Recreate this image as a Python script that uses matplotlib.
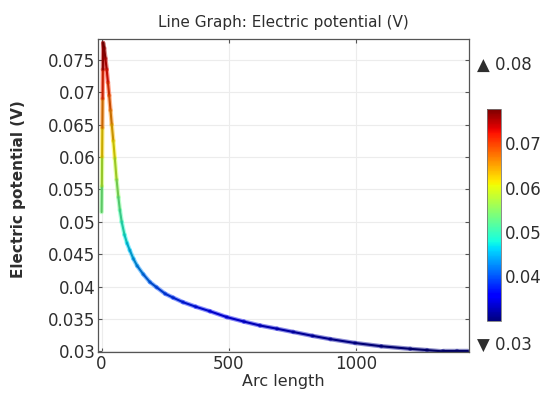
import numpy as np
import matplotlib
matplotlib.use("Agg")
import matplotlib.pyplot as plt
from matplotlib.collections import LineCollection
from matplotlib.colors import Normalize, ListedColormap

# Electric potential sampled along the arc
arc_length = [0, 1, 2, 3, 4, 5, 6, 10, 15, 20, 25, 30, 35, 40, 46, 52, 59, 66,
              72, 79, 90, 100, 111, 125, 140, 164, 190, 216, 250, 281, 320, 370,
              426, 492, 560, 623, 690, 754, 830, 900, 997, 1100, 1214, 1280,
              1345, 1400, 1442]
potential = [0.0515, 0.0555, 0.0600, 0.0645, 0.0690, 0.0735, 0.0776, 0.0768,
             0.0752, 0.0735, 0.0715, 0.0695, 0.0672, 0.0650, 0.0625, 0.0598,
             0.0565, 0.0538, 0.0518, 0.0500, 0.0480, 0.0467, 0.0456, 0.0443,
             0.0432, 0.0419, 0.0407, 0.0399, 0.0389, 0.0383, 0.0376, 0.0369,
             0.0362, 0.0353, 0.0346, 0.0340, 0.0335, 0.0330, 0.0324, 0.0319,
             0.0313, 0.0308, 0.0304, 0.0302, 0.0300, 0.0300, 0.0300]

x_ticks = [0, 500, 1000]
y_ticks = [0.03, 0.035, 0.04, 0.045, 0.05, 0.055, 0.06, 0.065, 0.07, 0.075]
y_tick_labels = ["0.03", "0.035", "0.04", "0.045", "0.05", "0.055", "0.06",
                 "0.065", "0.07", "0.075"]
cbar_ticks = [0.04, 0.05, 0.06, 0.07]
max_label = "\u25B2 0.08"
min_label = "\u25BC 0.03"

plt.rcParams['font.family'] = ['DejaVu Sans']
text_color = "#2e2e2e"

fig = plt.figure(figsize=(5.47, 4.07), dpi=100)
ax = fig.add_axes([0.1797, 0.135, 0.678, 0.769])

x = np.asarray(arc_length, dtype=float)
y = np.asarray(potential, dtype=float)
norm = Normalize(vmin=min(potential), vmax=max(potential))
cmap = plt.get_cmap("jet")
# shaded core of the line: the same rainbow, slightly darker
core_cmap = ListedColormap(cmap(np.linspace(0, 1, 256))[:, :3] * 0.78)

pts = np.column_stack([x, y]).reshape(-1, 1, 2)
segs = np.concatenate([pts[:-1], pts[1:]], axis=1)
seg_vals = 0.5 * (y[:-1] + y[1:])

halo = LineCollection(segs, cmap=cmap, norm=norm, linewidth=3.2, alpha=0.45,
                      capstyle="round", joinstyle="round")
halo.set_array(seg_vals)
ax.add_collection(halo)
core = LineCollection(segs, cmap=core_cmap, norm=norm, linewidth=1.5,
                      capstyle="round", joinstyle="round")
core.set_array(seg_vals)
ax.add_collection(core)

ax.set_xlim(-13, 1446)
ax.set_ylim(0.0299, 0.0782)
ax.set_xticks(x_ticks)
ax.set_yticks(y_ticks)
ax.set_yticklabels(y_tick_labels)
ax.grid(True, color="#ececec", linewidth=0.8)
ax.set_axisbelow(True)
ax.tick_params(direction="in", length=3, width=0.8, top=True, right=True,
               labelsize=12, colors="#555555", labelcolor=text_color, pad=2)
for sp in ax.spines.values():
    sp.set_color("#555555")
    sp.set_linewidth(0.9)

ax.set_title("Line Graph: Electric potential (V)", fontsize=11,
             color=text_color, pad=9)
ax.set_xlabel("Arc length", fontsize=11.5, color=text_color, labelpad=1)
ax.set_ylabel("Electric potential (V)", fontsize=11, color=text_color,
              fontweight="bold")
ax.yaxis.set_label_coords(-0.195, 0.52)

# colour legend
cax = fig.add_axes([0.890, 0.212, 0.0256, 0.519])
sm = plt.cm.ScalarMappable(norm=norm, cmap=cmap)
cb = fig.colorbar(sm, cax=cax, ticks=cbar_ticks)
cb.outline.set_edgecolor("#777777")
cb.outline.set_linewidth(0.6)
cb.ax.tick_params(length=0, labelsize=12, labelcolor=text_color, pad=3)
cb.ax.set_yticklabels([f"{t:.2f}" for t in cbar_ticks])

fig.text(0.872, 1 - 65 / 407, max_label, fontsize=12, color=text_color,
         va="center", ha="left")
fig.text(0.872, 1 - 345 / 407, min_label, fontsize=12, color=text_color,
         va="center", ha="left")

fig.savefig("out.png", dpi=100)
